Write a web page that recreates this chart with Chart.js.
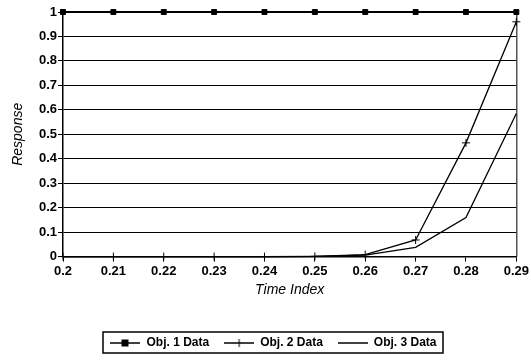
<!DOCTYPE html>
<html>
<head>
<meta charset="utf-8">
<script src="https://cdn.jsdelivr.net/npm/chart.js@4/dist/chart.umd.min.js"></script>
<style>
  html, body { margin: 0; padding: 0; background: #fff; }
  #wrap { width: 531px; height: 364px; }
</style>
</head>
<body>
<div id="wrap"><canvas id="chartOne" width="531" height="364"></canvas></div>
<script>
// values
let timeIndex = ['0.2', '0.21', '0.22', '0.23', '0.24', '0.25', '0.26', '0.27', '0.28', '0.29'];
let obj1Data = [1, 1, 1, 1, 1, 1, 1, 1, 1, 1];
let obj2Data = [0, 0, 0, 0, 0, 0.001, 0.008, 0.068, 0.465, 0.96];
let obj3Data = [0, 0, 0, 0, 0, 0.001, 0.006, 0.038, 0.16, 0.585];
let seriesNames = ['Obj. 1 Data', 'Obj. 2 Data', 'Obj. 3 Data'];

Chart.defaults.font.family = '"Liberation Sans", Arial, sans-serif';
Chart.defaults.color = '#000';

// little line + marker pictures for the legend
function makeSymbol(style) {
    const c = document.createElement('canvas');
    c.width = 30;
    c.height = 12;
    const g = c.getContext('2d');
    g.strokeStyle = '#000';
    g.fillStyle = '#000';
    g.lineWidth = 1.5;
    g.beginPath();
    g.moveTo(0, 6);
    g.lineTo(30, 6);
    g.stroke();
    if (style == 'rect') {
        g.fillRect(11, 2.5, 7, 7);
    } else if (style == 'cross') {
        g.lineWidth = 1;
        g.beginPath();
        g.moveTo(15, 2);
        g.lineTo(15, 10);
        g.stroke();
    }
    return c;
}

let legendStyles = ['rect', 'cross', 'none'];

// draws the right edge of the plot and the box round the legend
const framePlugin = {
    id: 'frame',
    afterLayout(chart) {
        chart.legend.left += 15;
        chart.legend.right += 15;
    },
    afterDraw(chart) {
        const ctx = chart.ctx;
        const a = chart.chartArea;
        ctx.save();
        ctx.strokeStyle = '#000';
        ctx.lineWidth = 1;
        ctx.beginPath();
        ctx.moveTo(a.right + 0.5, a.top);
        ctx.lineTo(a.right + 0.5, a.bottom);
        ctx.stroke();

        const boxes = chart.legend.legendHitBoxes;
        if (boxes && boxes.length) {
            let l = Math.min(...boxes.map(b => b.left));
            let r = Math.max(...boxes.map(b => b.left + b.width));
            let t = boxes[0].top;
            let h = boxes[0].height;
            ctx.lineWidth = 1.5;
            ctx.strokeRect(Math.round(l - 7), Math.round(t - 5), Math.round(r - l + 14), Math.round(h + 9));
        }
        ctx.restore();
    }
};

let chartOne = document.getElementById('chartOne').getContext('2d');

let responseChart = new Chart(chartOne, {
    type: 'line',
    data: {
        labels: timeIndex,
        datasets: [{
            label: seriesNames[0],
            data: obj1Data,
            borderColor: '#000',
            backgroundColor: '#000',
            borderWidth: 2,
            pointStyle: 'rect',
            pointRadius: 3.5,
            pointBorderWidth: 1,
            tension: 0,
            clip: false
        }, {
            label: seriesNames[1],
            data: obj2Data,
            borderColor: '#000',
            backgroundColor: '#000',
            borderWidth: 1.3,
            pointStyle: 'cross',
            pointRadius: 4,
            pointBorderWidth: 1,
            tension: 0,
            clip: false
        }, {
            label: seriesNames[2],
            data: obj3Data,
            borderColor: '#000',
            backgroundColor: '#000',
            borderWidth: 1.3,
            pointRadius: 0,
            tension: 0,
            clip: false
        }]
    },
    options: {
        responsive: false,
        animation: false,
        devicePixelRatio: 1,
        layout: {
            padding: { left: 0, right: 14, top: 12, bottom: 5 }
        },
        plugins: {
            tooltip: { enabled: false },
            legend: {
                position: 'bottom',
                labels: {
                    usePointStyle: true,
                    pointStyleWidth: 30,
                    padding: 15,
                    font: { size: 12, weight: 'bold' },
                    generateLabels(chart) {
                        return seriesNames.map((name, i) => ({
                            text: name,
                            pointStyle: makeSymbol(legendStyles[i]),
                            fillStyle: '#000',
                            strokeStyle: '#000',
                            lineWidth: 0,
                            hidden: false,
                            datasetIndex: i
                        }));
                    }
                }
            }
        },
        scales: {
            x: {
                type: 'category',
                offset: false,
                grid: {
                    drawOnChartArea: false,
                    color: '#000',
                    tickLength: 5
                },
                border: { color: '#000', width: 1.5 },
                ticks: {
                    padding: 2,
                    maxRotation: 0,
                    autoSkip: false,
                    font: { size: 13, weight: 'bold' }
                },
                title: {
                    display: true,
                    text: 'Time Index',
                    font: { size: 14, style: 'italic' },
                    padding: { top: 1, bottom: 23 }
                }
            },
            y: {
                min: 0,
                max: 1,
                afterFit(scale) { scale.width = 63; },
                grid: {
                    color: '#000',
                    lineWidth: 1,
                    tickLength: 5
                },
                border: { color: '#000', width: 1.5 },
                ticks: {
                    stepSize: 0.1,
                    padding: 1,
                    font: { size: 13, weight: 'bold' },
                    callback: value => String(+value.toFixed(1))
                },
                title: {
                    display: true,
                    text: 'Response',
                    font: { size: 14, style: 'italic' },
                    padding: { top: 10, bottom: 0 }
                }
            }
        }
    },
    plugins: [framePlugin]
});
</script>
</body>
</html>
